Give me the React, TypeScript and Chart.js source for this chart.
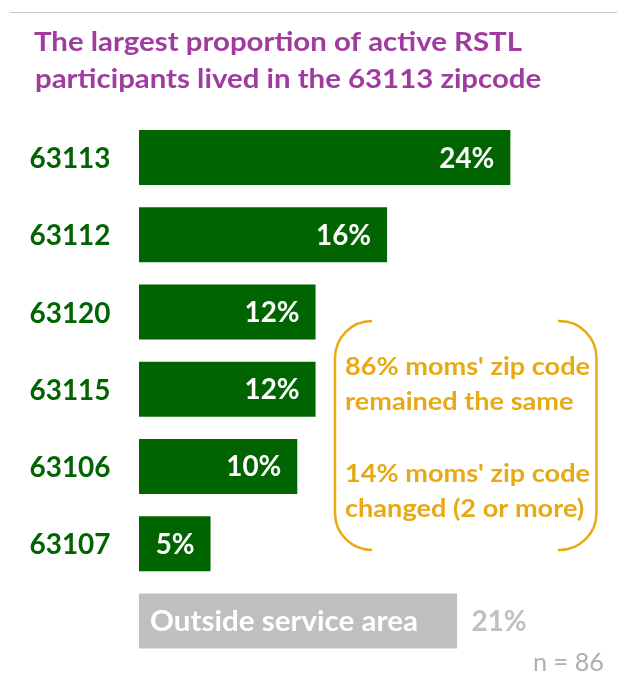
import React, { useEffect, useRef } from "react";
import { Chart, registerables } from "chart.js";

Chart.register(...registerables);

// ---- data ----
const titleLines = ["The largest proportion of active RSTL", "participants lived in the 63113 zipcode"];
const zipCodes = ["63113", "63112", "63120", "63115", "63106", "63107", "Outside service area"];
const shares = [24.4, 16.3, 11.6, 11.6, 10.4, 4.7, 20.9];
const valueLabels = shares.map((v) => Math.round(v) + "%");
const noteLines = ["86% moms' zip code", "remained the same", "", "14% moms' zip code", "changed (2 or more)"];
const sampleNote = "n = 86";

const GREEN = "#006400";
const GREY_BAR = "#BFBFBF";
const PURPLE = "#A03BA0";
const GOLD = "#E8AA14";
const FONT = "Lato";
const CAP = 0.7165;

function sxFor(ctx: CanvasRenderingContext2D, text: string, size: number, weight: string, width: number) {
  ctx.font = `${weight} ${size}px ${FONT}`;
  return width / ctx.measureText(text).width;
}

function drawText(
  ctx: CanvasRenderingContext2D,
  text: string,
  x: number,
  baseline: number,
  size: number,
  weight: string,
  color: string,
  sx: number,
  align: "left" | "right"
) {
  ctx.save();
  ctx.font = `${weight} ${size}px ${FONT}`;
  const w = ctx.measureText(text).width * sx;
  const left = align === "right" ? x - w : x;
  ctx.fillStyle = color;
  ctx.textAlign = "left";
  ctx.textBaseline = "alphabetic";
  ctx.translate(left, baseline);
  ctx.scale(sx, 1);
  ctx.fillText(text, 0, 0);
  ctx.restore();
}

const decorPlugin = {
  id: "decor",
  beforeDraw(chart: any) {
    const ctx: CanvasRenderingContext2D = chart.ctx;
    ctx.save();
    ctx.fillStyle = "#ffffff";
    ctx.fillRect(0, 0, chart.width, chart.height);
    ctx.restore();
  },
  afterDatasetsDraw(chart: any) {
    const ctx: CanvasRenderingContext2D = chart.ctx;
    // top rule
    ctx.save();
    ctx.strokeStyle = "#C8C8C8";
    ctx.lineWidth = 1.2;
    ctx.beginPath();
    ctx.moveTo(10, 12.5);
    ctx.lineTo(617, 12.5);
    ctx.stroke();
    ctx.restore();

    // title
    const tSize = 19.7 / CAP;
    const tSx = sxFor(ctx, titleLines[0], tSize, "bold", 488);
    drawText(ctx, titleLines[0], 34, 50.7, tSize, "bold", PURPLE, tSx, "left");
    drawText(ctx, titleLines[1], 35, 87.5, tSize, "bold", PURPLE, tSx, "left");

    // bar labels
    const meta = chart.getDatasetMeta(0);
    const ySize = 21 / CAP;
    const ySx = sxFor(ctx, "63113", ySize, "bold", 81);
    const vSize = 20 / CAP;
    const vSx = sxFor(ctx, "24%", vSize, "bold", 55);
    meta.data.forEach((bar: any, i: number) => {
      const cy = bar.y;
      const base = bar.base;
      const end = bar.x;
      if (i < zipCodes.length - 1) {
        drawText(ctx, zipCodes[i], 29.5, cy + 10.5, ySize, "bold", GREEN, ySx, "left");
        drawText(ctx, valueLabels[i], end - 16, cy + 10, vSize, "bold", "#ffffff", vSx, "right");
      } else {
        const oSx = sxFor(ctx, zipCodes[i], vSize, "bold", 268);
        drawText(ctx, zipCodes[i], base + 11, cy + 10, vSize, "bold", "#ffffff", oSx, "left");
        drawText(ctx, valueLabels[i], end + 14.5, cy + 10, vSize, "bold", GREY_BAR, vSx, "left");
      }
    });

    // n = 86
    const nSize = 18 / CAP;
    const nSx = sxFor(ctx, sampleNote, nSize, "normal", 71);
    drawText(ctx, sampleNote, 604, 670.7, nSize, "normal", "#AFAFAF", nSx, "right");

    // bracket annotation
    ctx.save();
    ctx.strokeStyle = GOLD;
    ctx.lineWidth = 2.5;
    ctx.beginPath();
    ctx.moveTo(372, 321);
    ctx.arcTo(335, 321, 335, 550, 37);
    ctx.arcTo(335, 550, 372, 550, 37);
    ctx.lineTo(372, 550);
    ctx.stroke();
    ctx.beginPath();
    ctx.moveTo(558, 321);
    ctx.arcTo(596.5, 321, 596.5, 550, 37);
    ctx.arcTo(596.5, 550, 558, 550, 37);
    ctx.lineTo(558, 550);
    ctx.stroke();
    ctx.restore();

    const aSize = 18 / CAP;
    const aSx = sxFor(ctx, noteLines[0], aSize, "bold", 245);
    const baselines = [375, 410, 446, 482, 517];
    noteLines.forEach((line, i) => {
      if (line) drawText(ctx, line, 345, baselines[i], aSize, "bold", GOLD, aSx, "left");
    });
  },
};

export default function App() {
  const ref = useRef<HTMLCanvasElement | null>(null);
  useEffect(() => {
    if (!ref.current) return;
    const chart = new Chart(ref.current, {
      type: "bar",
      data: {
        labels: zipCodes,
        datasets: [
          {
            data: shares,
            backgroundColor: zipCodes.map((_, i) => (i === zipCodes.length - 1 ? GREY_BAR : GREEN)),
            borderWidth: 0,
            barPercentage: 0.712,
            categoryPercentage: 1,
          },
        ],
      },
      options: {
        indexAxis: "y",
        responsive: false,
        animation: false,
        devicePixelRatio: 1,
        layout: { padding: { left: 139, right: 21.4, top: 119, bottom: 21.5 } },
        plugins: { legend: { display: false }, title: { display: false }, tooltip: { enabled: false } },
        scales: {
          x: { display: false, min: 0, max: 30 },
          y: { display: false },
        },
      },
      plugins: [decorPlugin],
    } as any);
    return () => chart.destroy();
  }, []);
  return (
    <div style={{ position: "absolute", left: 0, top: 0, width: 617, height: 681, background: "#fff" }}>
      <canvas ref={ref} width={617} height={681} style={{ display: "block", width: 617, height: 681 }} />
    </div>
  );
}
